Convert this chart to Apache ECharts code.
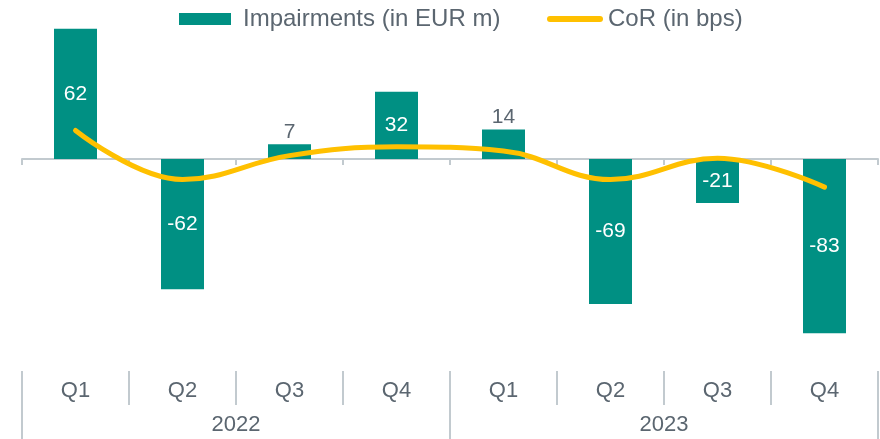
<!DOCTYPE html>
<html>
<head>
<meta charset="utf-8">
<script src="https://cdn.jsdelivr.net/npm/echarts@6/dist/echarts.min.js"></script>
<style>
html,body{margin:0;padding:0;background:#fff;}
#chart{width:880px;height:439px;}
</style>
</head>
<body>
<div id="chart"></div>
<script>
const quarters = ['Q1','Q2','Q3','Q4','Q1','Q2','Q3','Q4'];
const years = ['2022','2023'];
const impairments = [62, -62, 7, 32, 14, -69, -21, -83];
const cor = [6.8, -4.9, 0.8, 2.9, 1.9, -4.9, 0.2, -6.7];
const labelOutside = [false, false, true, false, true, false, false, false];

const textColor = '#5b6670';
const lineColor = '#c2cacf';
const font = 'Arial, "Liberation Sans", sans-serif';
const barColor = '#009083';
const corColor = '#ffc000';

const chart = echarts.init(document.getElementById('chart'), null, {renderer: 'canvas'});
chart.setOption({
  animation: false,
  textStyle: {fontFamily: font},
  legend: [
    {
      top: 7, left: 179, padding: 0,
      itemWidth: 52, itemHeight: 12,
      textStyle: {color: textColor, fontSize: 24, fontFamily: font, padding: [0, 0, 0, 7]},
      data: [{name: 'Impairments (in EUR m)', icon: 'rect', itemStyle: {color: barColor}}]
    },
    {
      top: 7, left: 547, padding: 0,
      itemWidth: 56, itemHeight: 12,
      textStyle: {color: textColor, fontSize: 24, fontFamily: font},
      data: [{name: 'CoR (in bps)',
              icon: 'path://M3,0 H53 A3,3 0 0 1 53,6 H3 A3,3 0 0 1 3,0 Z',
              itemStyle: {color: corColor}}]
    }
  ],
  grid: [
    {left: 22, right: 2, top: 12, bottom: 91},
    {left: 22, right: 2, top: 371, bottom: 34},
    {left: 22, right: 2, top: 371, bottom: 0}
  ],
  xAxis: [
    {
      type: 'category', gridIndex: 0, data: quarters,
      axisLine: {onZero: true, lineStyle: {color: lineColor, width: 2}},
      axisTick: {show: true, length: 6, lineStyle: {color: lineColor, width: 2}},
      axisLabel: {show: false}, splitLine: {show: false}
    },
    {
      type: 'category', gridIndex: 1, data: quarters, position: 'bottom',
      axisLine: {show: false}, axisTick: {show: false},
      axisLabel: {inside: true, margin: 3, color: textColor, fontSize: 22, fontFamily: font},
      splitLine: {show: true, showMinLine: false, showMaxLine: false, lineStyle: {color: lineColor, width: 2}}
    },
    {
      type: 'category', gridIndex: 2, data: years, position: 'bottom',
      axisLine: {show: false}, axisTick: {show: false},
      axisLabel: {inside: true, margin: 3, color: textColor, fontSize: 22, fontFamily: font},
      splitLine: {show: true, showMinLine: true, showMaxLine: true, lineStyle: {color: lineColor, width: 2}}
    }
  ],
  yAxis: [
    {type: 'value', gridIndex: 0, min: -90, max: 70, show: false, splitLine: {show: false}},
    {type: 'value', gridIndex: 0, min: -45, max: 35, show: false, splitLine: {show: false}},
    {type: 'value', gridIndex: 1, show: false},
    {type: 'value', gridIndex: 2, show: false}
  ],
  series: [
    {
      name: 'Impairments (in EUR m)', type: 'bar', xAxisIndex: 0, yAxisIndex: 0,
      barWidth: 43,
      itemStyle: {color: barColor},
      data: impairments.map((v, i) => ({
        value: v,
        label: labelOutside[i]
          ? {show: true, position: 'top', distance: 2, color: textColor, fontSize: 21}
          : {show: true, position: 'inside', color: '#ffffff', fontSize: 21}
      })),
      z: 2
    },
    {
      name: 'CoR (in bps)', type: 'line', xAxisIndex: 0, yAxisIndex: 1,
      data: cor, smooth: 0.4, symbol: 'none',
      lineStyle: {color: corColor, width: 5, cap: 'round'},
      itemStyle: {color: corColor},
      z: 3
    }
  ]
});
</script>
</body>
</html>
